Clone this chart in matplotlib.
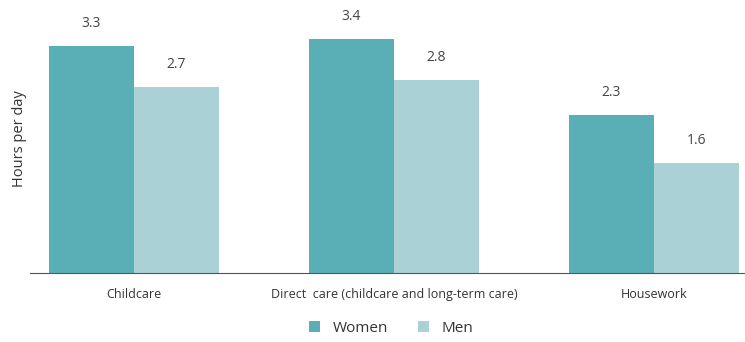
import matplotlib.pyplot as plt
import numpy as np

plt.rcParams['font.family'] = ['Open Sans', 'DejaVu Sans']

# Dados
categories = ['Childcare', 'Direct  care (childcare and long-term care)', 'Housework']
women = [3.3, 3.4, 2.3]
men = [2.7, 2.8, 1.6]

x = np.arange(len(categories))
w = 0.327

fig = plt.figure(figsize=(7.45, 3.42), dpi=100)
ax = fig.add_axes([0.040, 0.202, 0.960, 0.784])

b1 = ax.bar(x - w/2, women, w, color='#5aaeb5', label='Women')
b2 = ax.bar(x + w/2, men, w, color='#a9d1d6', label='Men')

for bars in (b1, b2):
    for r in bars:
        ax.annotate(f'{r.get_height():.1f}', (r.get_x() + r.get_width()/2, r.get_height()),
                    xytext=(0, 11), textcoords='offset points', ha='center', va='bottom',
                    fontsize=10, color='#444444')

ax.set_xlim(-0.40, 2.35)
ax.set_ylim(0, 3.9)
ax.set_xticks(x)
ax.set_xticklabels(categories, fontsize=9, color='#333333')
ax.tick_params(axis='x', length=0, pad=11)
ax.set_yticks([])
ax.set_ylabel('Hours per day', fontsize=10.5, color='#333333', labelpad=2)
for s in ['top', 'right', 'left']:
    ax.spines[s].set_visible(False)
ax.spines['bottom'].set_color('#555555')

fig.legend(handles=[b1, b2], loc='center', bbox_to_anchor=(0.525, 0.04), ncol=2,
           frameon=False, fontsize=11, handlelength=0.7, handleheight=0.7,
           columnspacing=2.0, labelcolor='#333333')

fig.savefig('out.png', dpi=100)
